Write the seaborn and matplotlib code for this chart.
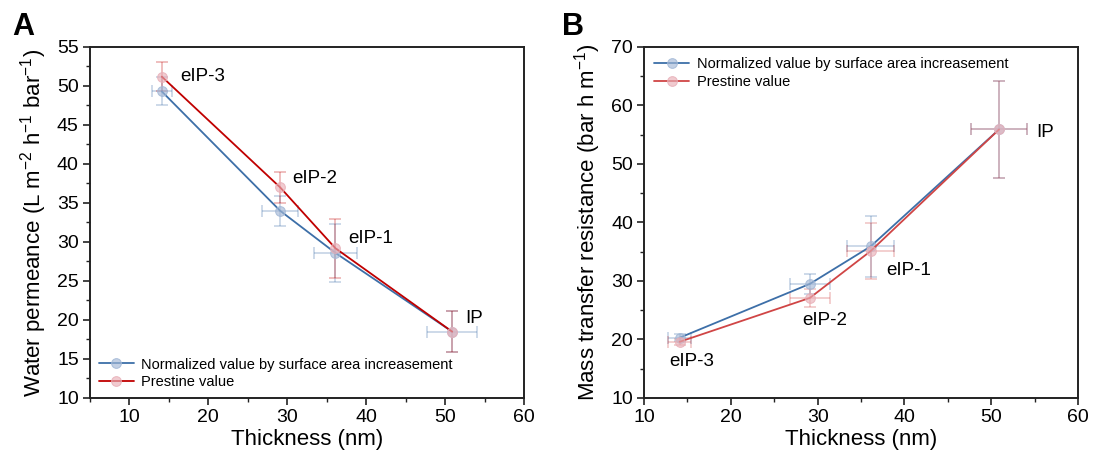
import numpy as np
import pandas as pd
import matplotlib
matplotlib.use("Agg")
import matplotlib.pyplot as plt
import seaborn as sns
from matplotlib.ticker import MultipleLocator

# ---------------- data ----------------
labels = ["eIP-3", "eIP-2", "eIP-1", "IP"]
thickness = [14.1, 29.1, 36.1, 50.9]
thickness_err = [1.3, 2.3, 2.7, 3.2]

# Panel A: water permeance
perm_norm = [49.3, 34.0, 28.6, 18.5]
perm_norm_err = [1.8, 1.9, 3.7, 2.6]
perm_pris = [51.2, 37.0, 29.2, 18.5]
perm_pris_err = [1.9, 2.0, 3.8, 2.6]

# Panel B: mass transfer resistance
res_norm = [20.3, 29.5, 35.9, 55.9]
res_norm_err = [0.6, 1.7, 5.2, 8.3]
res_pris = [19.6, 27.1, 35.1, 55.9]
res_pris_err = [0.5, 1.5, 4.8, 8.3]

series_names = ["Normalized value by surface area increasement", "Prestine value"]

# ---------------- style ----------------
sns.set_theme(style="ticks")
plt.rcParams["font.family"] = ["Liberation Sans", "DejaVu Sans"]
plt.rcParams["mathtext.default"] = "regular"
for k in ("text.color", "axes.labelcolor", "xtick.color", "ytick.color"):
    plt.rcParams[k] = "black"

blue = "#3d6fa8"
redA = "#c00000"
redB = "#d04545"
blue_fill = "#a3b8d6"
pink_fill = "#e8b0b8"

fig = plt.figure(figsize=(10.96, 4.61), dpi=100)
axA = fig.add_axes([0.0821, 0.1367, 0.396, 0.7614])
axB = fig.add_axes([0.5876, 0.1367, 0.396, 0.7614])


def draw(ax, yn, yne, yp, ype, red, xerr_pris):
    dfn = pd.DataFrame({"x": thickness, "y": yn})
    dfp = pd.DataFrame({"x": thickness, "y": yp})
    ax.errorbar(thickness, yn, yerr=yne, xerr=thickness_err, fmt="none",
                ecolor=blue, alpha=0.3, elinewidth=1.2, capsize=4, capthick=1.2, zorder=2)
    ax.errorbar(thickness, yp, yerr=ype, xerr=thickness_err if xerr_pris else None, fmt="none",
                ecolor=red, alpha=0.3, elinewidth=1.2, capsize=4, capthick=1.2, zorder=2)
    sns.lineplot(data=dfn, x="x", y="y", ax=ax, color=blue, linewidth=1.3, sort=False,
                 marker="o", markersize=7, markerfacecolor=blue_fill,
                 markeredgecolor=blue_fill, label=series_names[0], zorder=3)
    sns.lineplot(data=dfp, x="x", y="y", ax=ax, color=red, linewidth=1.3, sort=False,
                 marker="o", markersize=7, markerfacecolor=pink_fill,
                 markeredgecolor=pink_fill, label=series_names[1], zorder=3)
    for ln in ax.get_lines():
        fc = ln.get_markerfacecolor()
        if isinstance(fc, str) and fc.startswith("#"):
            ln.set_markerfacecolor(matplotlib.colors.to_rgba(fc, 0.65))
            ln.set_markeredgecolor(matplotlib.colors.to_rgba(fc, 0.85))


draw(axA, perm_norm, perm_norm_err, perm_pris, perm_pris_err, redA, False)
draw(axB, res_norm, res_norm_err, res_pris, res_pris_err, redB, True)

# annotations
ann_A = [(16.4, 51.2), (30.6, 38.2), (37.7, 30.5), (52.6, 20.2)]
ann_B = [(12.9, 16.2), (28.2, 23.3), (37.9, 31.8), (55.2, 55.4)]
for (tx, ty), lab in zip(ann_A, labels):
    axA.text(tx, ty, lab, fontsize=13.5, va="center", ha="left", color="black")
for (tx, ty), lab in zip(ann_B, labels):
    axB.text(tx, ty, lab, fontsize=13.5, va="center", ha="left", color="black")

# axes formatting
axA.set_xlim(5, 60)
axA.set_ylim(10, 55)
axA.xaxis.set_major_locator(MultipleLocator(10))
axA.xaxis.set_minor_locator(MultipleLocator(5))
axA.yaxis.set_major_locator(MultipleLocator(5))
axA.yaxis.set_minor_locator(MultipleLocator(2.5))
axA.set_ylabel("Water permeance (L m$^{-2}$ h$^{-1}$ bar$^{-1}$)", fontsize=16, labelpad=6)

axB.set_xlim(10, 60)
axB.set_ylim(10, 70)
axB.xaxis.set_major_locator(MultipleLocator(10))
axB.xaxis.set_minor_locator(MultipleLocator(5))
axB.yaxis.set_major_locator(MultipleLocator(10))
axB.yaxis.set_minor_locator(MultipleLocator(5))
axB.set_ylabel("Mass transfer resistance (bar h m$^{-1}$)", fontsize=16, labelpad=6)

for ax in (axA, axB):
    ax.set_xlabel("Thickness (nm)", fontsize=16, labelpad=2)
    ax.tick_params(which="major", direction="out", length=5, width=1.2, labelsize=14, pad=3,
                   color="#222222", labelcolor="black")
    ax.tick_params(which="minor", direction="out", length=3, width=1.0, color="#222222")
    ax.tick_params(axis="x", which="both", bottom=True, top=False)
    ax.tick_params(axis="y", which="both", left=True, right=False)
    for s in ax.spines.values():
        s.set_visible(True)
        s.set_linewidth(1.4)
        s.set_color("#222222")

axA.legend(loc="lower left", frameon=False, fontsize=10.5, handlelength=2.4,
           borderaxespad=0.2, labelspacing=0.25, handletextpad=0.5)
axB.legend(loc="upper left", frameon=False, fontsize=10.5, handlelength=2.4,
           borderaxespad=0.3, labelspacing=0.25, handletextpad=0.5)

fig.text(0.011, 0.975, "A", fontsize=22, fontweight="bold", va="top", ha="left", color="black")
fig.text(0.513, 0.975, "B", fontsize=22, fontweight="bold", va="top", ha="left", color="black")

fig.savefig("out.png", dpi=100)
